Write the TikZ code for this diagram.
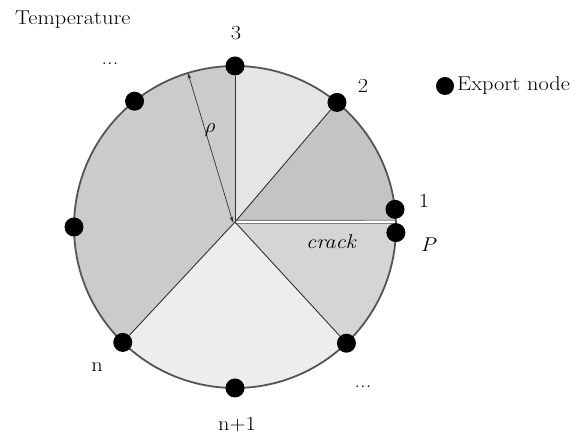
\documentclass[tikz,border=0pt]{standalone}
\usepackage{fontspec}
\usetikzlibrary{arrows.meta}
\newfontfamily\lblfont{Latin Modern Roman}[FakeStretch=1.12]
\definecolor{secTop}{HTML}{E5E5E5}
\definecolor{secUR}{HTML}{C4C4C4}
\definecolor{secLR}{HTML}{D5D5D5}
\definecolor{secBot}{HTML}{EDEDED}
\definecolor{secLeft}{HTML}{CBCBCB}
\definecolor{rim}{HTML}{555555}
\definecolor{spoke}{HTML}{333333}
\begin{document}
\begin{tikzpicture}[x=1pt,y=1pt,
  dot/.style={circle,fill=black,minimum size=19pt,inner sep=0pt},
  lbl/.style={font=\lblfont\fontsize{20}{23}\selectfont,inner sep=0pt},
  spokeline/.style={draw=spoke,line width=0.9pt}]
\useasboundingbox (0,0) rectangle (584,438);
\coordinate (O) at (235,211);
\coordinate (A) at (235,216);
\def\R{161}
% sectors
\fill[secTop] (A) -- ([shift={(90:\R)}]O) arc[start angle=90,end angle=50.7,radius=\R] -- cycle;
\fill[secUR] (A) -- ([shift={(50.7:\R)}]O) arc[start angle=50.7,end angle=1.8,radius=\R] -- cycle;
\fill[secLR] (A) -- ([shift={(1.8:\R)}]O) arc[start angle=1.8,end angle=-46.2,radius=\R] -- cycle;
\fill[secBot] (A) -- ([shift={(-46.2:\R)}]O) arc[start angle=-46.2,end angle=-134.2,radius=\R] -- cycle;
\fill[secLeft] (A) -- ([shift={(-134.2:\R)}]O) arc[start angle=-134.2,end angle=-270,radius=\R] -- cycle;
% crack
\coordinate (crackend) at ([shift={(1.8:\R)}]O);
\draw[draw=spoke!70,line width=4pt] (A) -- (crackend);
\draw[white,line width=2.4pt] (A) -- (crackend);
% rim
\draw[rim,line width=1.8pt] (O) circle (\R);
% nodes
\node[dot] (n3) at ([shift={(90:\R)}]O) {};
\node[dot] (n2) at ([shift={(50.7:\R)}]O) {};
\node[dot] (n1) at ([shift={(6.3:\R)}]O) {};
\node[dot] (nP) at ([shift={(-2:\R)}]O) {};
\node[dot] (nr) at ([shift={(-46.2:\R)}]O) {};
\node[dot] (nb) at ([shift={(-90:\R)}]O) {};
\node[dot] (nn) at ([shift={(-134.2:\R)}]O) {};
\node[dot] (nl) at ([shift={(180:\R)}]O) {};
\node[dot] (ntl) at ([shift={(128.6:\R)}]O) {};
% spokes
\draw[spokeline] (A) -- (n3);
\draw[spokeline] (A) -- (n2);
\draw[spokeline] (A) -- (nr);
\draw[spokeline] (A) -- (nn);
% radius arrow
\coordinate (rhoA) at ([shift={(-2,-0.5)}]A);
\coordinate (rhoB) at ([shift={(107:\R)}]O);
\draw[spoke,line width=0.7pt,{Stealth[length=6pt,width=4pt]}-{Stealth[length=6pt,width=4pt]}] (rhoB) -- (rhoA);
\node[inner sep=0pt,font=\fontsize{21}{23}\selectfont] (rho) at (210,308) {$\rho$};
% labels
\node[lbl,anchor=west] (temp) at (15,418) {Temperature};
\node[lbl] (l3) at (236,405) {3};
\node[lbl] (l2) at (363,352) {2};
\node[lbl] (l1) at (424,237) {1};
\node[lbl] (lP) at (428,193) {\itshape P};
\node[lbl] (lcrack) at (331,196) {\itshape crack};
\node[lbl,anchor=base] (ldots1) at (110,373) {...};
\node[lbl,anchor=base] (ldots2) at (363,50) {...};
\node[lbl] (ln) at (97,71) {n};
\node[lbl] (lnp1) at (237,13) {n+1};
% legend
\node[dot,minimum size=18pt] (legdot) at (445,352) {};
\node[lbl,anchor=west] (legtxt) at (457,352) {Export node};
\end{tikzpicture}
\end{document}
